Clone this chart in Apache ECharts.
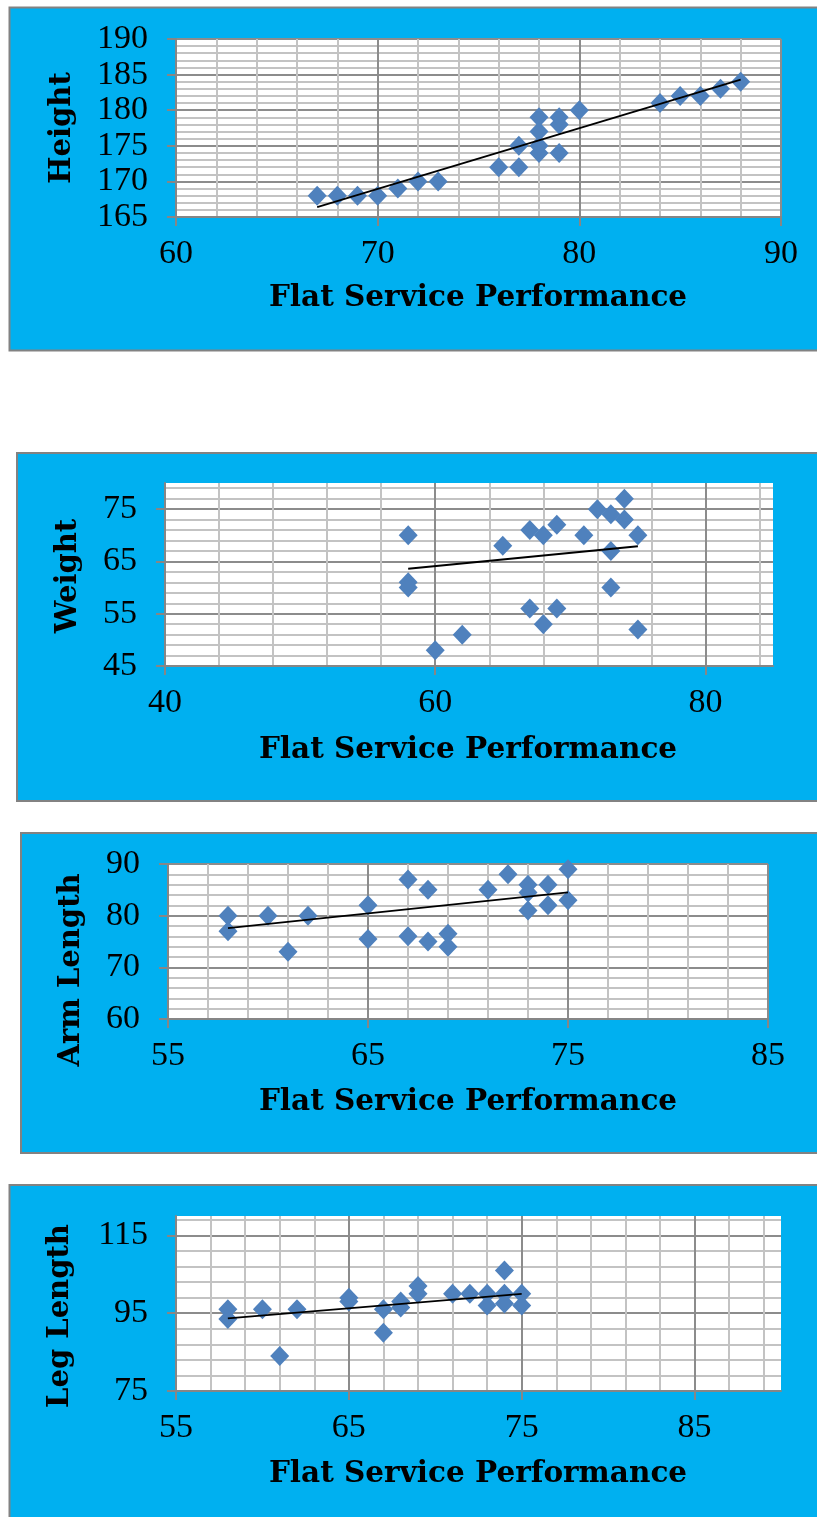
<!DOCTYPE html>
<html><head><meta charset="utf-8">
<script src="https://cdn.jsdelivr.net/npm/echarts@6/dist/echarts.min.js"></script>
<style>html,body{margin:0;padding:0;background:#fff}#c{width:817px;height:1517px}</style>
</head><body><div id="c"></div>
<script>
// ---- Data ----
const xTitle = 'Flat Service Performance';
const yTitles = ['Height', 'Weight', 'Arm Length', 'Leg Length'];

const fsp1 = [67,68,69,70,71,72,73,76,77,77,78,78,78,78,79,79,79,80,84,85,86,87,88];
const height = [168,168,168,168,169,170,170,172,172,175,174,175,177,179,174,178,179,180,181,182,182,183,184];
const trend1X = [67, 88];
const trend1Y = [166.4, 184.3];

const fsp2 = [58,58,58,60,62,65,67,67,68,68,69,69,71,72,73,73,73,74,74,75,75];
const weight = [70,61,60,48,51,68,71,56,70,53,72,56,70,75,74,67,60,77,73,70,52];
const trend2X = [58, 75];
const trend2Y = [63.6, 67.9];

const fsp3 = [58,58,60,61,62,65,65,67,67,68,68,69,69,71,72,73,73,73,74,74,75,75];
const arm = [80,77,80,73,80,82,75.5,87,76,85,75,76.5,74,85,88,86,84.5,81,86,82,89,83];
const trend3X = [58, 75];
const trend3Y = [77.6, 84.5];

const fsp4 = [58,58,60,61,62,65,65,67,67,68,68,69,69,71,72,73,73,74,74,74,75,75];
const leg = [96,93.5,96,84,96,99,98,96,90,98,96.5,102,100,100,100,100,97,106,100,97.5,100,97];
const trend4X = [58, 75];
const trend4Y = [93.7, 100];

// axis ranges: [min, max, interval]
const xRanges = [[60,90,10],[40,85,20],[55,85,10],[55,90,10]];
const yRanges = [[165,190,5],[45,80,10],[60,90,10],[75,120,20]];

// ---- Layout ----
const grids = [
  {left:176, top:39, width:605, height:178},
  {left:165, top:483, width:608, height:183},
  {left:168, top:864, width:600, height:155},
  {left:176, top:1216, width:605, height:175}
];
const panels = [
  {x:9.5, y:7.5, h:343},
  {x:17, y:453, h:348},
  {x:21, y:833, h:320},
  {x:9.5, y:1185, h:400}
];
const xTitlePos = [[478,298],[468,750],[468,1102],[478,1474]];
const yTitlePos = [[62,128],[68,576],[71,970],[60,1316]];

const xsList = [fsp1, fsp2, fsp3, fsp4];
const ysList = [height, weight, arm, leg];
const trends = [[trend1X,trend1Y],[trend2X,trend2Y],[trend3X,trend3Y],[trend4X,trend4Y]];

function axisBase(i, r, isX) {
  const onTick = (r[1] - r[0]) % r[2] === 0;
  return {
    type: 'value', gridIndex: i, min: r[0], max: r[1], interval: r[2],
    axisLine: {show: true, onZero: false, lineStyle: {color: '#868686', width: 2}},
    axisTick: {show: true, length: 9, lineStyle: {color: '#868686', width: 2}},
    axisLabel: {fontFamily: 'Liberation Serif', fontSize: 34, color: '#000',
      margin: isX ? 20 : 28, showMaxLabel: onTick, showMinLabel: true},
    splitLine: {show: true, showMaxLine: onTick, lineStyle: {color: '#8C8C8C', width: 2}},
    minorTick: {show: false, splitNumber: 5},
    minorSplitLine: {show: true, lineStyle: {color: '#C3C3C3', width: 2}}
  };
}

const option = {
  animation: false,
  backgroundColor: '#ffffff',
  grid: grids.map(g => Object.assign({show: true, backgroundColor: '#ffffff', borderWidth: 0,
    containLabel: false, outerBoundsMode: 'none'}, g)),
  xAxis: xRanges.map((r, i) => axisBase(i, r, true)),
  yAxis: yRanges.map((r, i) => axisBase(i, r, false)),
  series: [],
  graphic: {elements: []}
};

for (let i = 0; i < 4; i++) {
  option.series.push({
    type: 'scatter', xAxisIndex: i, yAxisIndex: i, z: 2,
    symbol: 'diamond', symbolSize: [19, 20],
    itemStyle: {color: '#4F81BD', opacity: 1},
    data: xsList[i].map((x, k) => [x, ysList[i][k]])
  });
  option.series.push({
    type: 'line', xAxisIndex: i, yAxisIndex: i, z: 3,
    symbol: 'none', showSymbol: false, silent: true,
    lineStyle: {color: '#000', width: 1.8},
    data: trends[i][0].map((x, k) => [x, trends[i][1][k]])
  });
  const p = panels[i];
  option.graphic.elements.push({
    type: 'rect', z: -10, silent: true,
    shape: {x: p.x, y: p.y, width: 840, height: p.h},
    style: {fill: '#00B0F0', stroke: '#828282', lineWidth: 2}
  });
  option.graphic.elements.push({
    type: 'text', z: 50, x: xTitlePos[i][0], y: xTitlePos[i][1],
    style: {text: xTitle, font: 'bold 29.5px "DejaVu Serif"', fill: '#000',
      textAlign: 'center', textVerticalAlign: 'middle'}
  });
  option.graphic.elements.push({
    type: 'text', z: 50, x: yTitlePos[i][0], y: yTitlePos[i][1], rotation: Math.PI / 2,
    style: {text: yTitles[i], font: 'bold 29px "DejaVu Serif"', fill: '#000',
      textAlign: 'center', textVerticalAlign: 'middle'}
  });
}

const chart = echarts.init(document.getElementById('c'), null, {renderer: 'canvas'});
chart.setOption(option);
</script>
</body></html>
